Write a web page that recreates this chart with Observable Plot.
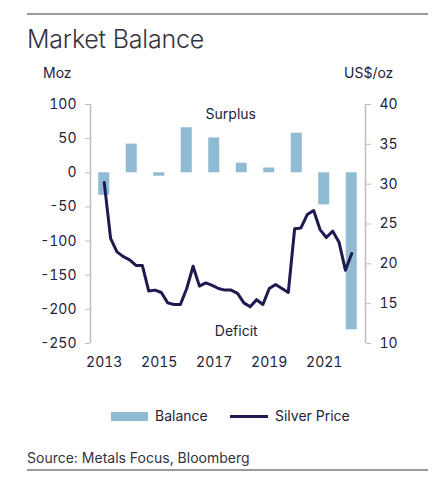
<!DOCTYPE html>
<html>
<head>
<meta charset="utf-8">
<script src="https://cdn.jsdelivr.net/npm/d3@7"></script>
<script src="https://cdn.jsdelivr.net/npm/@observablehq/plot@0.6"></script>
<style>
  html, body { margin: 0; padding: 0; background: #fff; }
  #wrap { position: relative; width: 436px; height: 481px; font-family: Inter, "Noto Sans", sans-serif; color: #23233a; overflow: hidden; }
  .rule { position: absolute; left: 27px; width: 401px; height: 2px; background: #9a9a9e; }
  #title { position: absolute; left: 27px; top: 24px; font-size: 25px; font-weight: 300; color: #33333d; letter-spacing: -0.2px; white-space: nowrap; }
  .unit { position: absolute; top: 64px; font-size: 14px; white-space: nowrap; }
  #chart { position: absolute; left: 0; top: 60px; }
  .leg { position: absolute; font-size: 14px; white-space: nowrap; }
  #source { position: absolute; left: 27px; top: 449px; font-size: 14px; color: #33333d; white-space: nowrap; }
</style>
</head>
<body>
<div id="wrap">
  <div class="rule" style="top:13px"></div>
  <div id="title">Market Balance</div>
  <div class="unit" style="left:43px">Moz</div>
  <div class="unit" style="left:344px">US$/oz</div>
  <div id="chart"></div>
  <div style="position:absolute;left:111px;top:412px;width:37px;height:9px;background:#8fbbd4"></div>
  <div class="leg" style="left:155px;top:407px">Balance</div>
  <div style="position:absolute;left:230px;top:415px;width:38px;height:3px;background:#1c1a4e"></div>
  <div class="leg" style="left:275px;top:407px">Silver Price</div>
  <div id="source">Source: Metals Focus, Bloomberg</div>
  <div class="rule" style="top:469px"></div>
</div>
<script>
// Annual market balance (Moz)
const years = [2013, 2014, 2015, 2016, 2017, 2018, 2019, 2020, 2021, 2022];
const balance = [-33, 42, -5, 66, 51, 14, 7, 58, -47, -230];

// Quarterly silver price (US$/oz), Q1 2013 .. Q4 2022
const silverPrice = [
  30.2, 23.2, 21.5, 20.9,
  20.5, 19.8, 19.8, 16.6,
  16.7, 16.4, 15.1, 14.9,
  14.9, 16.9, 19.7, 17.2,
  17.6, 17.3, 16.9, 16.7,
  16.7, 16.3, 15.1, 14.6,
  15.5, 14.9, 16.9, 17.4,
  16.9, 16.4, 24.4, 24.5,
  26.2, 26.7, 24.3, 23.3,
  24.1, 22.7, 19.2, 21.3
];

const leftTicks = [100, 50, 0, -50, -100, -150, -200, -250];
const rightTicks = [40, 35, 30, 25, 20, 15, 10];
const xTickYears = [2013, 2015, 2017, 2019, 2021];

const annotations = [
  {label: "Surplus", x: 2017.6, y: 86},
  {label: "Deficit", x: 2017.8, y: -232}
];

// secondary axis mapping: price 10..40  <->  balance -250..100
const pMin = 10, pMax = 40, bMin = -250, bMax = 100;
const toB = p => (p - pMin) / (pMax - pMin) * (bMax - bMin) + bMin;
const toP = b => (b - bMin) / (bMax - bMin) * (pMax - pMin) + pMin;

const barData = years.map((y, i) => ({year: y, value: balance[i]}));
const first = years[0], last = years[years.length - 1];
const lineData = silverPrice.map((p, i) => ({t: first + i * (last - first) / (silverPrice.length - 1), price: p}));

const axisColor = "#bdbdbd";
const textColor = "#23233a";

const chart = Plot.plot({
  width: 436,
  height: 320,
  marginTop: 44,
  marginBottom: 37,
  marginLeft: 90,
  marginRight: 71,
  style: {fontFamily: "Inter, 'Noto Sans', sans-serif", fontSize: "14px", color: textColor, background: "transparent"},
  x: {domain: [2012.5, 2022.5]},
  y: {domain: [bMin, bMax]},
  marks: [
    Plot.rectY(barData, {x1: d => d.year - 0.2, x2: d => d.year + 0.2, y: "value", fill: "#8fbbd4"}),
    Plot.ruleX([2012.5, 2022.5], {y1: bMin, y2: bMax, stroke: axisColor, strokeWidth: 1.5}),
    Plot.axisY({anchor: "left", ticks: leftTicks, tickSize: 5, tickPadding: 9, tickFormat: d => String(d), label: null, stroke: axisColor, fill: textColor}),
    Plot.axisY({anchor: "right", ticks: rightTicks.map(toB), tickSize: 5, tickPadding: 9, tickFormat: d => String(Math.round(toP(d))), label: null, stroke: axisColor, fill: textColor}),
    Plot.axisX({ticks: xTickYears, tickSize: 0, tickPadding: 14, tickFormat: d => String(d), label: null, fill: textColor}),
    Plot.line(lineData, {x: "t", y: d => toB(d.price), stroke: "#1c1a4e", strokeWidth: 3, strokeLinejoin: "round"}),
    Plot.text(annotations, {x: "x", y: "y", text: "label", fontSize: 14, fill: textColor})
  ]
});
document.getElementById("chart").appendChild(chart);
</script>
</body>
</html>
